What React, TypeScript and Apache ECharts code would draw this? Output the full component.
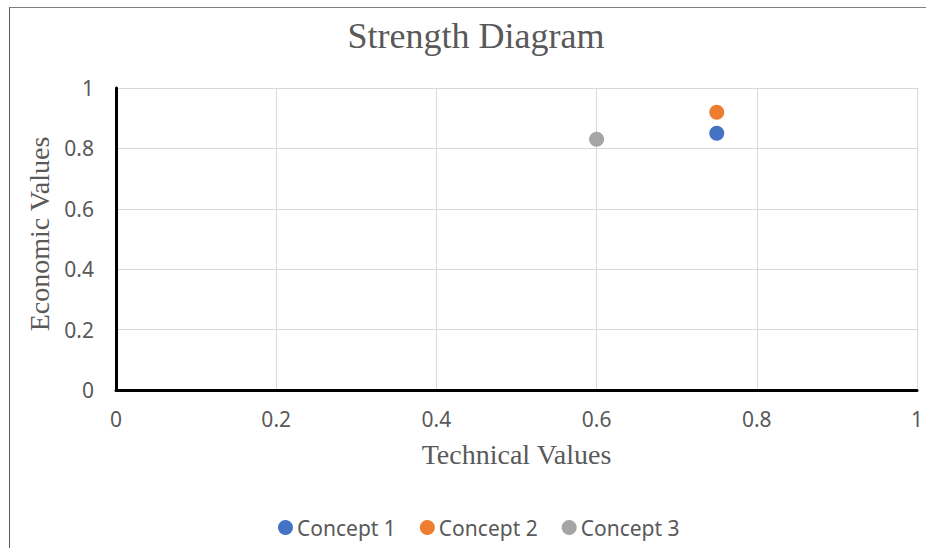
import React, { useEffect, useRef } from "react";
import * as echarts from "echarts";

const chartTitle = "Strength Diagram";
const xAxisName = "Technical Values";
const yAxisName = "Economic Values";
const seriesNames = ["Concept 1", "Concept 2", "Concept 3"];
const technicalValues = [0.75, 0.75, 0.6];
const economicValues = [0.85, 0.92, 0.83];
const seriesColors = ["#4472C4", "#ED7D31", "#A5A5A5"];
const axisMin = 0;
const axisMax = 1;
const axisStep = 0.2;

const SANS = "'Noto Sans', sans-serif";
const SERIF = "'Liberation Serif', 'Times New Roman', serif";
const TEXT = "#595959";

export default function App() {
  const ref = useRef<HTMLDivElement>(null);

  useEffect(() => {
    document.body.style.margin = "0";
    if (!ref.current) return;
    const chart = echarts.init(ref.current, undefined, { renderer: "svg" });
    chart.setOption({
      animation: false,
      backgroundColor: "#ffffff",
      title: {
        text: chartTitle,
        left: 471,
        textAlign: "center",
        top: 13,
        textStyle: { fontFamily: SERIF, fontSize: 36, fontWeight: "normal", color: TEXT },
      },
      legend: {
        bottom: 5,
        left: 273,
        data: seriesNames,
        icon: "circle",
        itemWidth: 15,
        itemHeight: 15,
        itemGap: 24,
        textStyle: { fontFamily: SANS, fontSize: 21, color: TEXT, padding: [0, 0, 0, -1] },
      },
      grid: { left: 116, top: 88, width: 802, height: 302, containLabel: false },
      xAxis: {
        type: "value",
        min: axisMin,
        max: axisMax,
        interval: axisStep,
        name: xAxisName,
        nameLocation: "middle",
        nameGap: 50,
        nameTextStyle: { fontFamily: SERIF, fontSize: 28, color: TEXT },
        axisLine: { show: true, onZero: false, lineStyle: { color: "#000000", width: 3 } },
        axisTick: { show: false },
        axisLabel: { fontFamily: SANS, fontSize: 21, color: TEXT, margin: 18 },
        splitLine: { show: true, lineStyle: { color: "#D9D9D9", width: 1 } },
      },
      yAxis: {
        type: "value",
        min: axisMin,
        max: axisMax,
        interval: axisStep,
        name: yAxisName,
        nameLocation: "middle",
        nameGap: 59,
        nameTextStyle: { fontFamily: SERIF, fontSize: 28, color: TEXT, padding: [0, 0, 0, 10] },
        axisLine: { show: true, onZero: false, lineStyle: { color: "#000000", width: 3 } },
        axisTick: { show: false },
        axisLabel: { fontFamily: SANS, fontSize: 21, color: TEXT, margin: 22 },
        splitLine: { show: true, lineStyle: { color: "#D9D9D9", width: 1 } },
      },
      series: seriesNames.map((name, i) => ({
        name,
        type: "scatter",
        symbol: "circle",
        symbolSize: 15,
        itemStyle: { color: seriesColors[i], opacity: 1 },
        data: [[technicalValues[i], economicValues[i]]],
      })),
    });
    return () => chart.dispose();
  }, []);

  return (
    <div style={{ position: "relative", width: 926, height: 548, overflow: "hidden" }}>
      <div ref={ref} style={{ width: 926, height: 548 }} />
      <div
        style={{
          position: "absolute",
          left: 9,
          top: 7,
          width: 1000,
          height: 1000,
          borderLeft: "1px solid #595959",
          borderTop: "1px solid #7F7F7F",
          pointerEvents: "none",
        }}
      />
    </div>
  );
}
